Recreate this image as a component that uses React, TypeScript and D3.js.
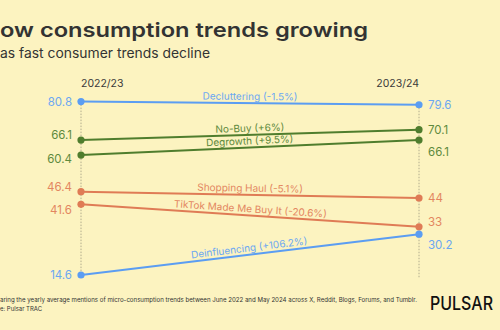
import React from "react";
import * as d3 from "d3";

const periods = ["2022/23", "2023/24"];
const trends = [
  "Decluttering (-1.5%)",
  "No-Buy (+6%)",
  "Degrowth (+9.5%)",
  "Shopping Haul (-5.1%)",
  "TikTok Made Me Buy It (-20.6%)",
  "Deinfluencing (+106.2%)",
];
const values2223 = [80.8, 66.1, 60.4, 46.4, 41.6, 14.6];
const values2324 = [79.6, 70.1, 66.1, 44, 33, 30.2];
const valueLabels2223 = ["80.8", "66.1", "60.4", "46.4", "41.6", "14.6"];
const valueLabels2324 = ["79.6", "70.1", "66.1", "44", "33", "30.2"];
const titleText = "ow consumption trends growing";
const subtitleText = "as fast consumer trends decline";
const noteLine1 = "aring the yearly average mentions of micro-consumption trends between June 2022 and May 2024 across X, Reddit, Blogs, Forums, and Tumblr.";
const noteLine2 = "e: Pulsar TRAC";
const brandText = "PULSAR";

// layout / style (not data)
const groupOf = ["blue", "green", "green", "orange", "orange", "blue"];
const lineColor: Record<string, string> = { blue: "#5b9df2", green: "#4f7d2d", orange: "#df7b55" };
const textColor: Record<string, string> = { blue: "#6ba7f2", green: "#5e8a3d", orange: "#e3865f" };
const leftDy = [0, -5, 4, -5, 6, 0];
const rightDy = [0, 0, 12, 0, -5, 11];

const W = 500;
const H = 330;
const FONT = "Inter, 'Noto Sans', sans-serif";

export default function App() {
  const x = d3.scalePoint<string>().domain(periods).range([81, 419]);
  const y = d3.scaleLinear().domain([14.6, 80.8]).range([275, 101.6]);
  const x0 = x(periods[0])!;
  const x1 = x(periods[1])!;
  const line = d3.line<[number, number]>().x((d) => d[0]).y((d) => d[1]);

  return (
    <svg
      width={W}
      height={H}
      style={{ position: "absolute", left: 0, top: 0, display: "block" }}
      fontFamily={FONT}
    >
      <rect width={W} height={H} fill="#fcf3c0" />
      <text x={0} y={37} fontSize={20} fontWeight={600} fill="#333333" textLength={368} lengthAdjust="spacingAndGlyphs">
        {titleText}
      </text>
      <text x={0} y={58} fontSize={13.5} fill="#333333" textLength={210} lengthAdjust="spacingAndGlyphs">
        {subtitleText}
      </text>

      <text x={x0} y={87} fontSize={10.5} fill="#3a3a3a">{periods[0]}</text>
      <text x={x1} y={87} textAnchor="end" fontSize={10.5} fill="#3a3a3a">{periods[1]}</text>

      <line x1={x0} x2={x0} y1={y(d3.max(values2223)!)} y2={278} stroke="#a09a80" strokeWidth={0.8} strokeDasharray="1.5,1.5" />
      <line x1={x1} x2={x1} y1={y(d3.max(values2324)!)} y2={278} stroke="#a09a80" strokeWidth={0.8} strokeDasharray="1.5,1.5" />

      {trends.map((t, i) => {
        const g = groupOf[i];
        const ya = y(values2223[i]);
        const yb = y(values2324[i]);
        const mx = (x0 + x1) / 2;
        const my = (ya + yb) / 2;
        const ang = (Math.atan2(yb - ya, x1 - x0) * 180) / Math.PI;
        return (
          <g key={t}>
            <path d={line([[x0, ya], [x1, yb]])!} stroke={lineColor[g]} strokeWidth={2} fill="none" />
            <circle cx={x0} cy={ya} r={3.6} fill={lineColor[g]} />
            <circle cx={x1} cy={yb} r={3.6} fill={lineColor[g]} />
            <text
              transform={`translate(${mx},${my}) rotate(${ang})`}
              y={-3.2}
              textAnchor="middle"
              fontSize={10}
              fill={textColor[g]}
            >
              {t}
            </text>
            <text x={72} y={ya + leftDy[i]} dy="0.36em" textAnchor="end" fontSize={11.5} fill={textColor[g]}>
              {valueLabels2223[i]}
            </text>
            <text x={428} y={yb + rightDy[i]} dy="0.36em" fontSize={11.5} fill={textColor[g]}>
              {valueLabels2324[i]}
            </text>
          </g>
        );
      })}

      <text x={0} y={302} fontSize={6.4} fill="#333333" textLength={417} lengthAdjust="spacingAndGlyphs">
        {noteLine1}
      </text>
      <text x={0} y={311} fontSize={6.4} fill="#333333" textLength={42} lengthAdjust="spacingAndGlyphs">
        {noteLine2}
      </text>
      <text x={430} y={310} fontSize={18} fontWeight={500} fill="#111111" textLength={63} lengthAdjust="spacingAndGlyphs">
        {brandText}
      </text>
    </svg>
  );
}
